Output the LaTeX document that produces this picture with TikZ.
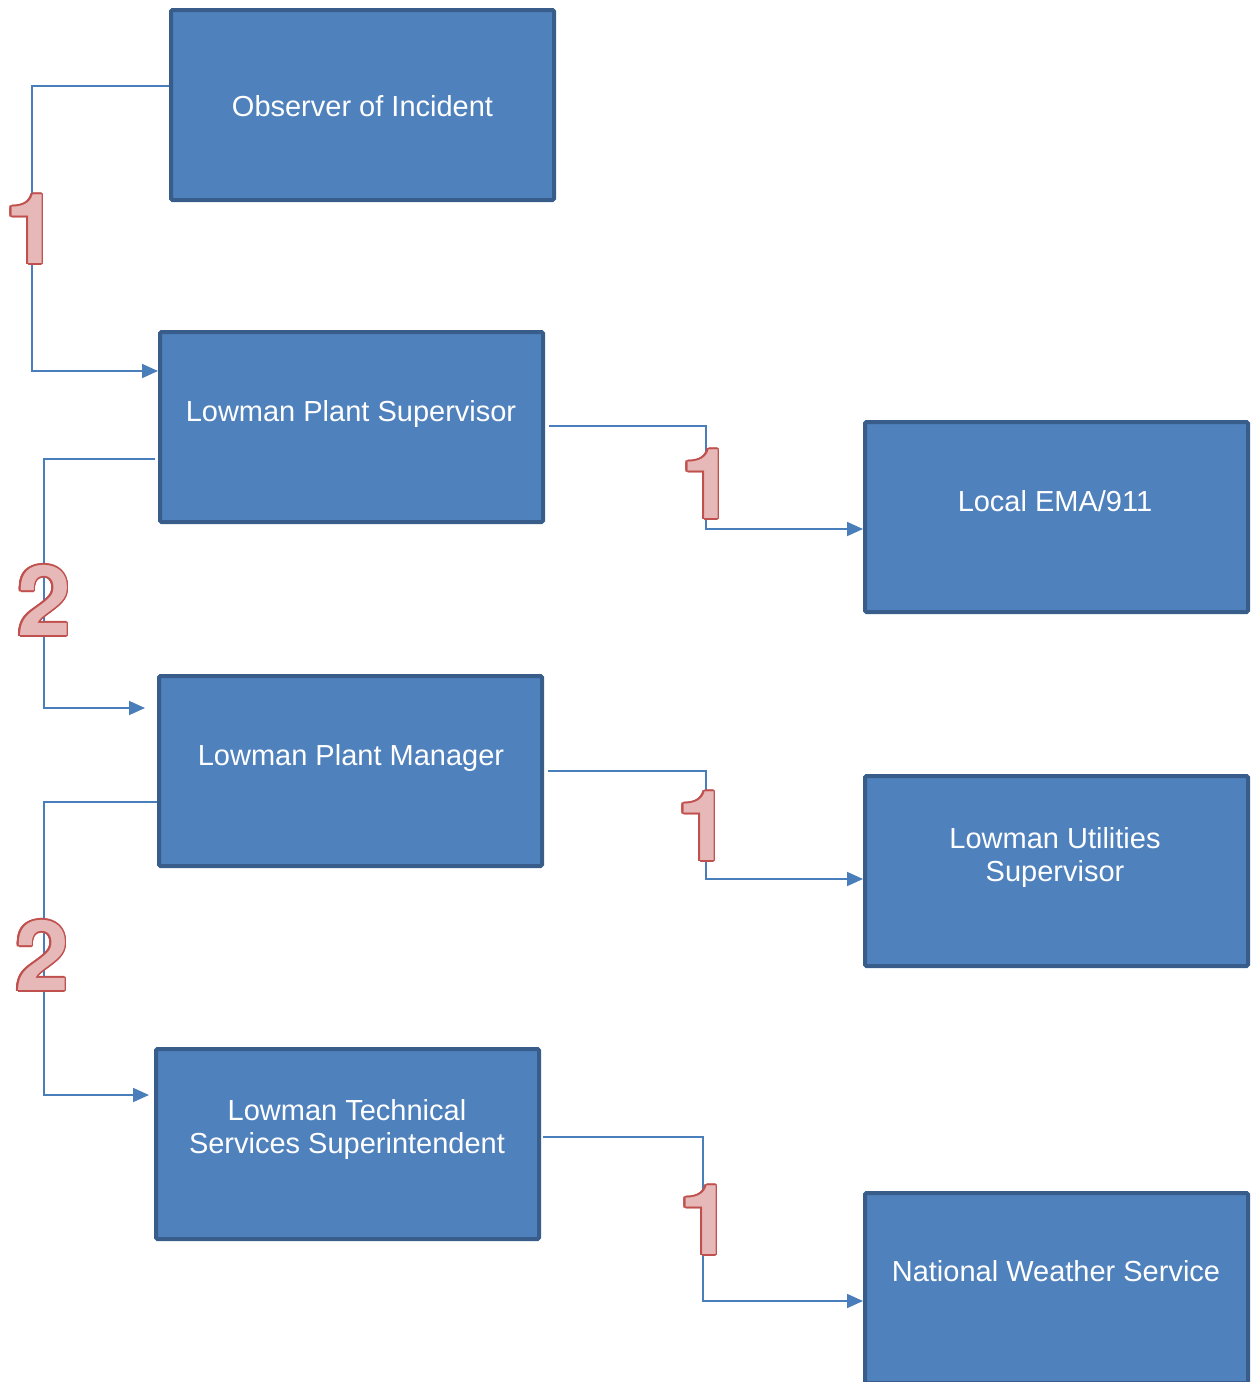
\documentclass[tikz,border=0pt]{standalone}
\usepackage{fontspec}
\setmainfont{Liberation Sans}
\newfontfamily\numfont{TeX Gyre Heros}
\usepackage{contour}
\contourlength{1.6pt}
\usetikzlibrary{arrows.meta}
\definecolor{boxfill}{HTML}{4F81BD}
\definecolor{boxline}{HTML}{385D8A}
\definecolor{connc}{HTML}{4A7EBB}
\definecolor{numfill}{HTML}{E6B9B8}
\definecolor{numline}{HTML}{C0504D}
\begin{document}
\begin{tikzpicture}[x=1pt,y=-1pt,
  box/.style={draw=boxline, fill=boxfill, line width=4pt, rounded corners=1.5pt,
    minimum width=383pt, minimum height=190pt, inner sep=0pt},
  lbl/.style={text=white, font=\fontsize{29}{33}\selectfont, align=center, inner sep=0pt},
  conn/.style={draw=connc, line width=1.8pt, -{Triangle[length=16pt,width=14pt]}},
  num/.style={font=\numfont\fontsize{97}{97}\bfseries\selectfont, anchor=base, inner sep=0pt}]
\useasboundingbox (0,0) rectangle (1254,1382);
% boxes
\node[box] (obs)  at (362.5,105)  {};
\node[box] (sup)  at (351.5,427)  {};
\node[box] (ema)  at (1056.5,517) {};
\node[box] (man)  at (350.5,771)  {};
\node[box] (util) at (1056.5,871) {};
\node[box] (tech) at (347.5,1144) {};
\node[box] (nws)  at (1056.5,1288) {};
% labels
\node[lbl, anchor=base] (tobs)  at (362.5,116) {Observer of Incident};
\node[lbl, anchor=base] (tsup)  at (351,421)   {Lowman Plant Supervisor};
\node[lbl, anchor=base] (tema)  at (1055,511)  {Local EMA/911};
\node[lbl, anchor=base] (tman)  at (351,765)   {Lowman Plant Manager};
\node[lbl] (tutil) at (1055,857) {Lowman Utilities\\Supervisor};
\node[lbl] (ttech) at (347,1129) {Lowman Technical\\Services Superintendent};
\node[lbl, anchor=base] (tnws)  at (1056,1281) {National Weather Service};
% connectors
\draw[conn] ([yshift=19pt]obs.west) -- ++(-137,0) |- ([yshift=56pt]sup.west);
\draw[conn, shorten <=4pt] ([yshift=1pt]sup.east) -- ++(161,0) |- ([yshift=-12pt]ema.west);
\draw[conn, shorten <=3pt, shorten >=12pt] ([yshift=-32pt]sup.west) -- ++(-114,0) |- ([yshift=63pt]man.west);
\draw[conn, shorten <=4pt] (man.east) -- ++(162,0) |- ([yshift=-8pt]util.west);
\draw[conn, shorten >=5pt] ([yshift=-31pt]man.west) -- ++(-113,0) |- ([yshift=49pt]tech.west);
\draw[conn, shorten <=2pt] ([yshift=7pt]tech.east) -- ++(162,0) |- ([yshift=-13pt]nws.west);
% step numbers
\node[num] (n1) at (32,263.5)  {\contour{numline}{\textcolor{numfill}{1}}};
\node[num] (n2) at (708,518.5) {\contour{numline}{\textcolor{numfill}{1}}};
\node[num] (n3) at (44,635.5)  {\contour{numline}{\textcolor{numfill}{2}}};
\node[num] (n4) at (704,860.5) {\contour{numline}{\textcolor{numfill}{1}}};
\node[num] (n5) at (42,990.5)  {\contour{numline}{\textcolor{numfill}{2}}};
\node[num] (n6) at (706,1254.5) {\contour{numline}{\textcolor{numfill}{1}}};
\end{tikzpicture}
\end{document}
